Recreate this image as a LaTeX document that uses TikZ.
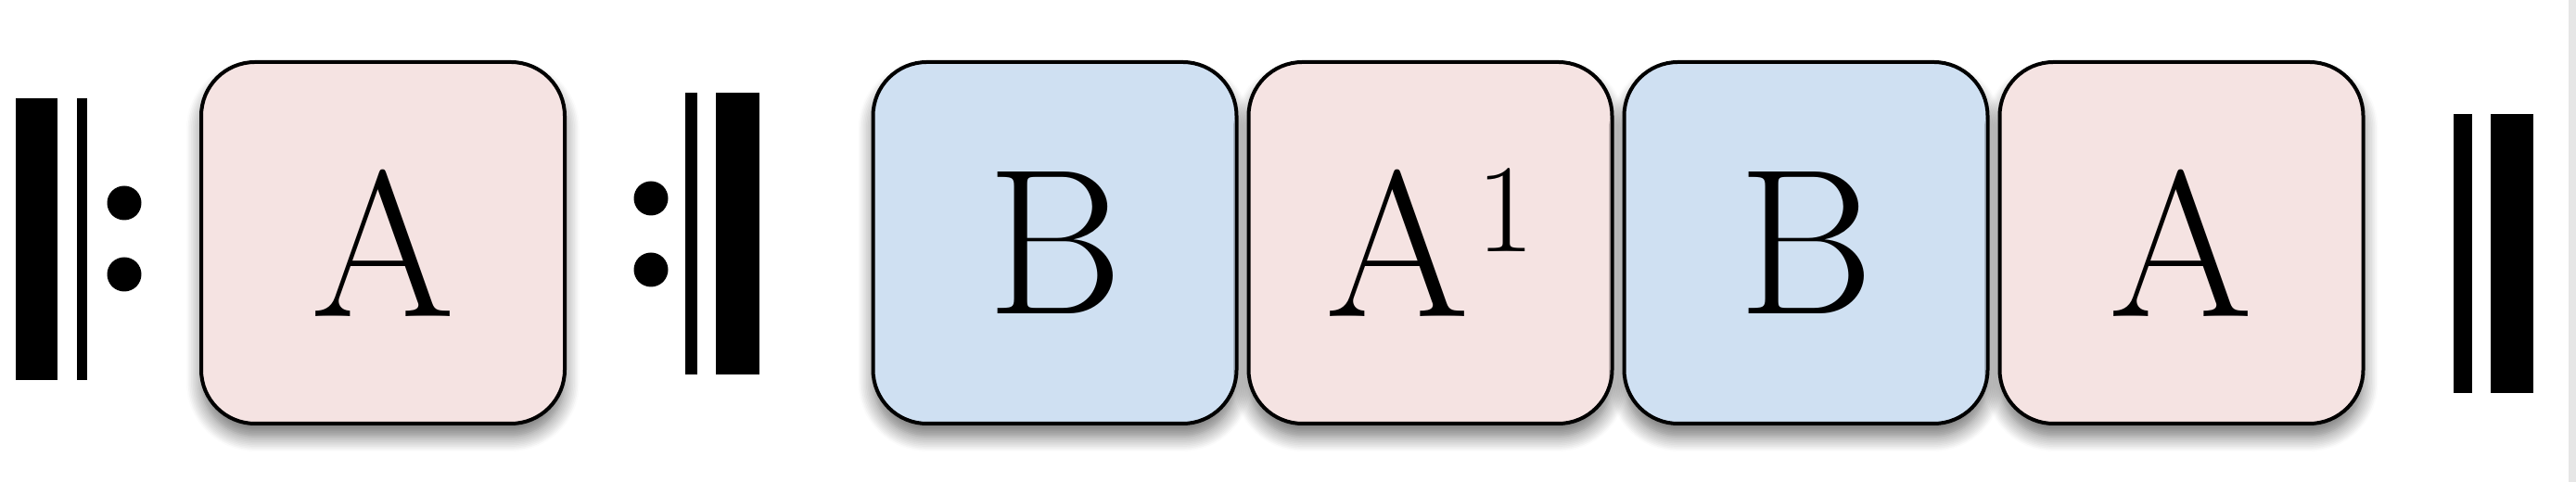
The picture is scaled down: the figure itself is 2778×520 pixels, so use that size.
\documentclass[tikz,border=0pt]{standalone}
\usepackage{xcolor}
\usepackage{tikz}
\usetikzlibrary{positioning, shadows, shadows.blur}
\definecolor{part-pink}{HTML}{F5E3E2}
\definecolor{part-blue}{HTML}{CFE0F2}
\definecolor{edge-gray}{HTML}{E6E6E6}

\tikzset{
    part/.style={draw=black, line width=1pt, rounded corners=14.5pt,
        minimum width=98pt, minimum height=97.5pt, inner sep=0pt,
        font=\fontsize{56}{60}\selectfont,
        blur shadow={shadow xshift=0pt, shadow yshift=-3.5pt,
            shadow blur radius=4pt, shadow blur steps=10, shadow opacity=55}},
    partA/.style={part, fill=part-pink},
    partB/.style={part, fill=part-blue},
    bar/.style={fill=black},
}

\begin{document}
\begin{tikzpicture}[x=0.25pt, y=-0.25pt]
    \useasboundingbox (0,0) rectangle (2778,520);
    \fill[edge-gray] (2770,0) rectangle (2778,520);

    % Start repeat
    \fill[bar] (17,106) rectangle (62,410);
    \fill[bar] (83,106) rectangle (94,410);
    \foreach \y in {219, 296} {
        \fill (134,\y) circle (18.5);
    }

    % Repeated part
    \node[partA] (a1) at (413,262) {A};

    % End repeat
    \foreach \y in {214, 291} {
        \fill (702,\y) circle (18.5);
    }
    \fill[bar] (739,100) rectangle (752,404);
    \fill[bar] (772,100) rectangle (819,404);

    % Parts
    \node[partB] (b1) at (1137.5,262) {B};
    \node[partA, right=2.25pt of b1] (a2) {A\kern2pt\raisebox{17.5pt}{\fontsize{34}{36}\selectfont 1}};
    \node[partB, right=2.25pt of a2] (b2) {B};
    \node[partA, right=2.25pt of b2] (a3) {A};

    % Final bar
    \fill[bar] (2646,123) rectangle (2666,424);
    \fill[bar] (2686,123) rectangle (2732,424);
\end{tikzpicture}
\end{document}
